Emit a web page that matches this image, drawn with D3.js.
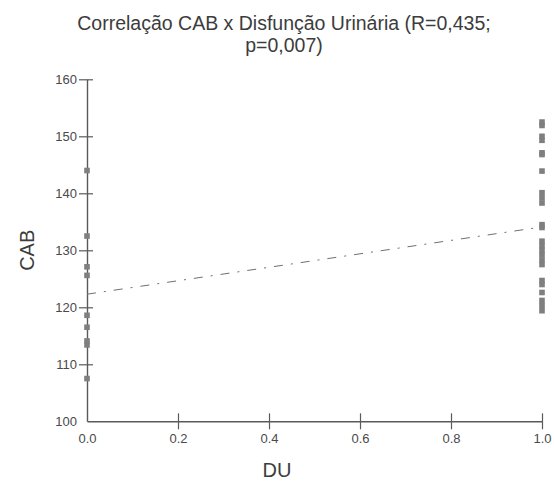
<!DOCTYPE html>
<html>
<head>
<meta charset="utf-8">
<script src="https://cdn.jsdelivr.net/npm/d3@7"></script>
<style>
  html, body { margin: 0; padding: 0; background: #fff; }
  svg { display: block; font-family: "Liberation Sans", Arial, sans-serif; }
</style>
</head>
<body>
<svg id="chart" width="554" height="481"></svg>
<script>
// CAB values for patients without (DU = 0) and with (DU = 1) urinary dysfunction
const cabWithoutDU = [144, 132.5, 127.1, 125.6, 118.6, 116.5, 114.1, 113.4, 107.5];
const cabWithDU = [
  152.5, 151.9, 150.0, 149.3, 147.1, 146.8, 143.9,
  140.1, 139.2, 138.3, 134.5, 134.0,
  131.6, 130.8, 130.0, 129.2, 128.3, 127.5,
  124.7, 124.0, 122.6, 121.2, 120.3, 119.4
];
// Fitted trend line (DU, CAB)
const trendX = [0, 1];
const trendY = [122.3, 134.1];
// Axis ticks
const xTicks = [0, 0.2, 0.4, 0.6, 0.8, 1.0];
const yTicks = [100, 110, 120, 130, 140, 150, 160];
const titleLines = ["Correlação CAB x Disfunção Urinária (R=0,435;", "p=0,007)"];

const svg = d3.select("#chart");
const x = d3.scaleLinear().domain([0, 1]).range([87, 542]);
const y = d3.scaleLinear().domain([100, 160]).range([421.3, 79.3]);

const axisColor = "#5a5a5a";
const labelColor = "#4a4a4a";

// Title
svg.append("text")
  .attr("x", 284).attr("y", 29.5)
  .attr("text-anchor", "middle")
  .attr("font-size", 19.5).attr("fill", "#3c3c3c")
  .selectAll("tspan").data(titleLines).join("tspan")
  .attr("x", 284).attr("dy", (d, i) => i === 0 ? 0 : 22.5)
  .text(d => d);

// Y axis
const gy = svg.append("g").attr("transform", `translate(${x(0)},0)`)
  .call(d3.axisLeft(y).tickValues(yTicks).tickFormat(d3.format("d")).tickSize(0).tickPadding(10));
gy.select(".domain").attr("stroke", axisColor).attr("stroke-width", 1.4);
gy.selectAll(".tick").filter(d => d !== 100).append("line")
  .attr("x1", -8).attr("x2", 6).attr("stroke", axisColor).attr("stroke-width", 1.2);
gy.selectAll(".tick text").attr("font-size", 13).attr("fill", labelColor)
  .attr("font-family", "Liberation Sans, Arial, sans-serif");

// X axis
const gx = svg.append("g").attr("transform", `translate(0,${y(100)})`)
  .call(d3.axisBottom(x).tickValues(xTicks).tickFormat(d3.format(".1f")).tickSize(0).tickPadding(12));
gx.select(".domain").attr("stroke", axisColor).attr("stroke-width", 1.4);
gx.selectAll(".tick").filter(d => d !== 0).append("line")
  .attr("y1", -8).attr("y2", 8).attr("stroke", axisColor).attr("stroke-width", 1.2);
gx.selectAll(".tick text").attr("font-size", 13).attr("fill", labelColor)
  .attr("font-family", "Liberation Sans, Arial, sans-serif");

// Axis titles
svg.append("text")
  .attr("transform", `translate(34,${(y(100) + y(160)) / 2}) rotate(-90)`)
  .attr("text-anchor", "middle")
  .attr("font-size", 20).attr("fill", "#3c3c3c")
  .text("CAB");
svg.append("text")
  .attr("x", 277).attr("y", 477)
  .attr("text-anchor", "middle")
  .attr("font-size", 20).attr("fill", "#3c3c3c")
  .text("DU");

// Trend line
const trend = trendX.map((d, i) => [d, trendY[i]]);
svg.append("path")
  .datum(trend)
  .attr("d", d3.line().x(d => x(d[0])).y(d => y(d[1])))
  .attr("fill", "none")
  .attr("stroke", "#6f6f6f")
  .attr("stroke-width", 1)
  .attr("stroke-dasharray", "9,8,2,8");

// Points
const pts = cabWithoutDU.map(v => ({du: 0, cab: v}))
  .concat(cabWithDU.map(v => ({du: 1, cab: v})));
const s = 5.6;
svg.append("g").selectAll("rect").data(pts).join("rect")
  .attr("x", d => x(d.du) - s / 2)
  .attr("y", d => y(d.cab) - s / 2)
  .attr("width", s).attr("height", s)
  .attr("fill", "#7f7f7f");
</script>
</body>
</html>
